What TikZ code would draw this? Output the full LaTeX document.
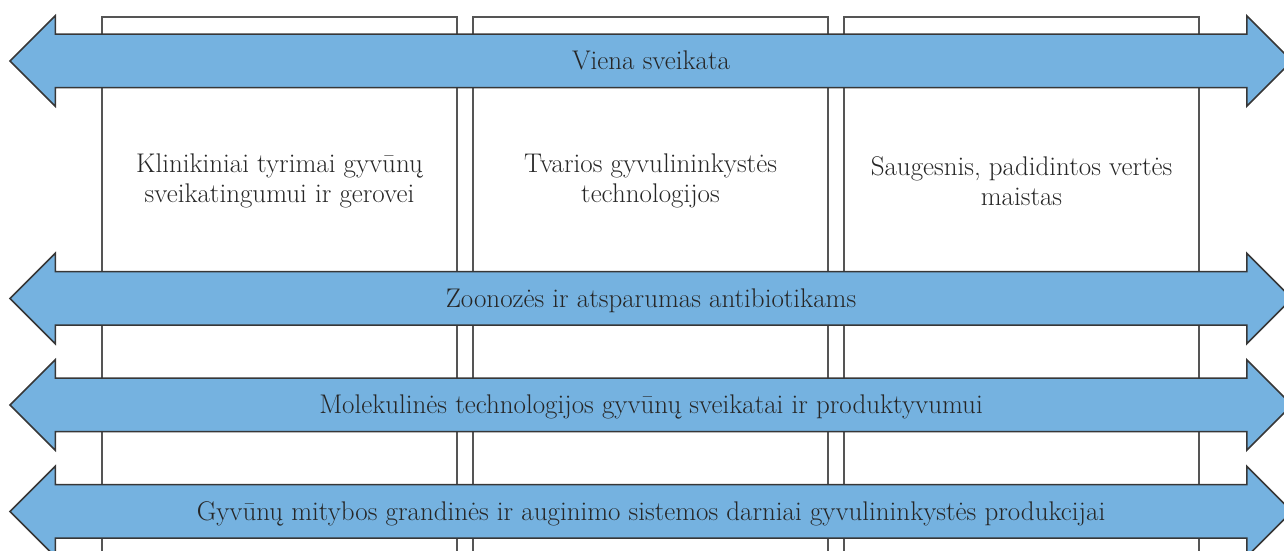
\documentclass[tikz,border=0pt]{standalone}
\usepackage{tikz}
\usetikzlibrary{shapes.arrows}
\usepackage{xcolor}
\definecolor{arrowblue}{RGB}{117,178,224}
\definecolor{edgegray}{RGB}{55,55,55}
\definecolor{boxgray}{RGB}{85,85,85}
\tikzstyle{colbox} = [draw=boxgray, line width=1.6pt, rectangle, anchor=north, minimum width=355pt, minimum height=560pt, inner sep=0pt]
\tikzstyle{boxtext} = [align=center, font=\fontsize{27}{30}\selectfont, text=black!85]
\tikzstyle{bandarrow} = [double arrow, draw=edgegray, fill=arrowblue, line width=1.5pt, double arrow head extend=18.5pt, minimum width=89pt, minimum height=1282pt, inner sep=0pt, text height=35pt, text depth=17pt, font=\fontsize{27}{30}\selectfont, text=black!85]

\begin{document}
\begin{tikzpicture}[x=1pt,y=1pt]
\useasboundingbox (0,0) rectangle (1284,551);
\clip (0,0) rectangle (1284,551);
% columns
\node [colbox] (clinic) at (279.5,535) {};
\node [colbox] (livestock) at (650.5,535) {};
\node [colbox] (food) at (1021.5,535) {};
\node [boxtext] (clinictext) at (279.5,370) {Klinikiniai tyrimai gyvūnų\\sveikatingumui ir gerovei};
\node [boxtext] (livestocktext) at (650.5,370) {Tvarios gyvulininkystės\\technologijos};
\node [boxtext] (foodtext) at (1021.5,370) {Saugesnis, padidintos vertės\\maistas};
% bands
\node [bandarrow] (health) at (651,490) {Viena sveikata};
\node [bandarrow] (zoonoses) at (651,252.5) {Zoonozės ir atsparumas antibiotikams};
\node [bandarrow] (molecular) at (651,146) {Molekulinės technologijos gyvūnų sveikatai ir produktyvumui};
\node [bandarrow] (nutrition) at (651,39.5) {Gyvūnų mitybos grandinės ir auginimo sistemos darniai gyvulininkystės produkcijai};
\end{tikzpicture}
\end{document}
